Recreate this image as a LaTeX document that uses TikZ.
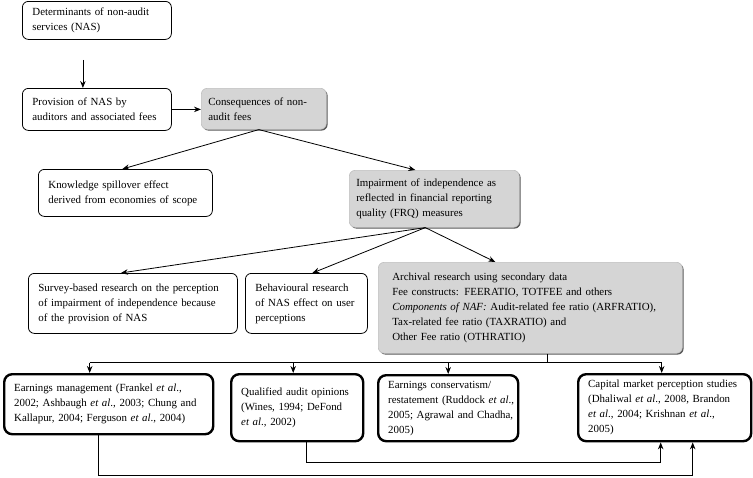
\documentclass[tikz,border=0pt]{standalone}
\usepackage{fontspec}
\setmainfont{Liberation Serif}
\usetikzlibrary{arrows.meta,shadows,calc}
\definecolor{boxgray}{HTML}{D5D5D5}
\newcommand\oneline[1]{\mbox{#1}}
\begin{document}
\begin{tikzpicture}[x=1pt,y=-1pt,
  font=\fontsize{10.9}{15}\selectfont,
  base/.style={anchor=north west, align=left, inner xsep=10pt, inner ysep=2pt, rounded corners=6pt},
  thinbox/.style={base, draw=black, line width=0.8pt, fill=white},
  graybox/.style={base, fill=boxgray, draw=black!25, line width=0.6pt,
     drop shadow={shadow xshift=1.3pt, shadow yshift=-1.3pt, fill=black!65, opacity=1}},
  thickbox/.style={base, draw=black, line width=2.4pt, fill=white, rounded corners=8pt},
  arr/.style={-{Stealth[length=7pt,width=5.5pt]}, line width=0.8pt},
  ln/.style={line width=0.8pt}
]
\useasboundingbox (0,0) rectangle (753,477);

\node[thinbox, minimum width=149pt, minimum height=38pt, text width=129pt] (det) at (22,1)
  {Determinants of non-audit\\services (NAS)};
\node[thinbox, minimum width=149pt, minimum height=42pt, text width=129pt] (prov) at (22,88)
  {Provision of NAS by\\auditors and associated fees};
\node[graybox, inner xsep=7pt, minimum width=125pt, minimum height=41pt, text width=111pt] (cons) at (201,88)
  {Consequences of non-\\audit fees};
\node[thinbox, minimum width=174pt, minimum height=47pt, text width=154pt] (know) at (38,169)
  {Knowledge spillover effect\\derived from economies of scope};
\node[graybox, inner xsep=7pt, minimum width=170pt, minimum height=57pt, text width=156pt] (imp) at (349,170)
  {Impairment of independence as\\reflected in financial reporting\\quality (FRQ) measures};
\node[thinbox, minimum width=209pt, minimum height=60pt, text width=189pt] (surv) at (28,273)
  {Survey-based research on the perception\\of impairment of independence because\\of the provision of NAS};
\node[thinbox, minimum width=122pt, minimum height=60pt, text width=102pt] (behav) at (245,273)
  {Behavioural research\\of NAS effect on user\\perceptions};
\node[graybox, inner xsep=14pt, minimum width=304pt, minimum height=91pt, text width=276pt] (arch) at (378,262)
  {Archival research using secondary data\\Fee constructs: FEERATIO, TOTFEE and others\\\textit{Components of NAF:} Audit-related fee ratio (ARFRATIO),\\Tax-related fee ratio (TAXRATIO) and\\Other Fee ratio (OTHRATIO)};

\node[thickbox, minimum width=209pt, minimum height=60pt, text width=189pt] (earn) at (3,373)
  {Earnings management (Frankel \textit{et al}.,\\2002; Ashbaugh \textit{et al}., 2003; Chung and\\Kallapur, 2004; Ferguson \textit{et al}., 2004)};
\node[thickbox, minimum width=132pt, minimum height=67pt, text width=112pt] (qual) at (230,373)
  {Qualified audit opinions\\(Wines, 1994; DeFond\\\textit{et al}., 2002)};
\node[thickbox, minimum width=140pt, minimum height=66pt, text width=120pt] (econs) at (377,374)
  {\oneline{Earnings conservatism/}\\\oneline{restatement (Ruddock \textit{et al}.,}\\\oneline{2005; Agrawal and Chadha,}\\2005)};
\node[thickbox, minimum width=173pt, minimum height=67pt, text width=153pt] (cap) at (577,373)
  {Capital market perception studies\\(Dhaliwal \textit{et al}., 2008, Brandon\\\textit{et al}., 2004; Krishnan \textit{et al}.,\\2005)};

% top arrows
\draw[arr] ([xshift=-14pt,yshift=-20pt]det.south) -- ([xshift=-14pt]prov.north);
\draw[arr] (prov.east) -- (prov.east -| cons.west);
\coordinate (capex) at ([xshift=-5pt]cons.south);
\draw[arr] (capex) -- ([xshift=-3pt]know.north);
\draw[arr] (capex) -- ([xshift=-19pt]imp.north);
\coordinate (impb) at ([xshift=-9pt]imp.south);
\draw[arr] (impb) -- ([xshift=-12pt]surv.north);
\draw[arr] (impb) -- ([xshift=6pt]behav.north);
\draw[arr] (impb) -- ([xshift=-35pt]arch.north);

% distribution
\coordinate (ab) at ([xshift=17pt]arch.south);
\coordinate (bus) at ($(ab)+(0,9)$);
\coordinate (eT) at ([xshift=-19pt]earn.north);
\coordinate (qT) at ([xshift=-4pt]qual.north);
\coordinate (cT) at (econs.north);
\coordinate (kT) at ([xshift=-3pt]cap.north);
\draw[ln] (ab) -- (bus);
\draw[ln] (bus -| eT) -- (bus -| kT);
\draw[arr] (bus -| eT) -- (eT);
\draw[arr] (bus -| qT) -- (qT);
\draw[arr] (bus -| cT) -- (cT);
\draw[arr] (bus -| kT) -- (kT);

% bottom feedback
\coordinate (eB) at ([xshift=-10pt]earn.south);
\coordinate (qB) at ([xshift=9pt]qual.south);
\coordinate (kB1) at ([xshift=28pt]cap.south);
\coordinate (kB2) at ([xshift=-4pt]cap.south);
\draw[arr] (eB) -- ($(eB)+(0,40)$) -| (kB1);
\draw[arr] (qB) -- ($(qB)+(0,20)$) -| (kB2);
\end{tikzpicture}
\end{document}
